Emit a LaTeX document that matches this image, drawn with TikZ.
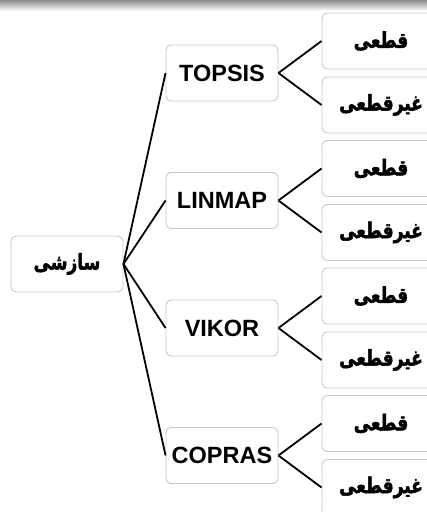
\documentclass[tikz,border=0pt]{standalone}
\usepackage{fontspec}
\setmainfont{Liberation Sans}
\newfontfamily\arabicfont[Script=Arabic,BoldFont={DejaVu Sans Bold},BoldFeatures={FakeBold=2.5}]{DejaVu Sans}
\TeXXeTstate=1
\usetikzlibrary{positioning}
\definecolor{BoxGray}{RGB}{200,200,200}
\newcommand{\fa}[1]{\scalebox{1.03}[1.3]{\arabicfont\bfseries\fontsize{16.5}{20}\selectfont\beginR #1\endR}}

\begin{document}
\begin{tikzpicture}[
      x=1pt,y=-1pt,
      font=\fontsize{23.5}{28}\selectfont\bfseries,
      box/.style={draw=BoxGray,line width=0.9pt,rounded corners=5pt,fill=white,inner sep=0pt,minimum width=112pt,minimum height=56pt,align=center},
      leaf/.style={box,minimum width=118pt},
      link/.style={line width=1.8pt,black}
    ]
      \useasboundingbox (0,0) rectangle (427,512);
      \shade[top color=black!45,bottom color=white] (0,0) rectangle (427,11);

      \node[box] (root) at (67,264) {\fa{سازشی}};

      \node[box] (topsis) at (222,73) {TOPSIS};
      \node[box] (linmap) at (222,200.5) {LINMAP};
      \node[box] (vikor) at (222,328) {VIKOR};
      \node[box] (copras) at (222,455.5) {COPRAS};

      \node[leaf] (topsisc) at (381,41) {\fa{قطعی}};
      \node[leaf] (topsisu) at (381,105) {\fa{غیرقطعی}};
      \node[leaf] (linmapc) at (381,168.5) {\fa{قطعی}};
      \node[leaf] (linmapu) at (381,232.5) {\fa{غیرقطعی}};
      \node[leaf] (vikorc) at (381,296) {\fa{قطعی}};
      \node[leaf] (vikoru) at (381,360) {\fa{غیرقطعی}};
      \node[leaf] (coprasc) at (381,423.5) {\fa{قطعی}};
      \node[leaf] (coprasu) at (381,487.5) {\fa{غیرقطعی}};

      \draw[link] (root.east) -- (topsis.west);
      \draw[link] (root.east) -- (linmap.west);
      \draw[link] (root.east) -- (vikor.west);
      \draw[link] (root.east) -- (copras.west);

      \draw[link] (topsis.east) -- (topsisc.west);
      \draw[link] (topsis.east) -- (topsisu.west);
      \draw[link] (linmap.east) -- (linmapc.west);
      \draw[link] (linmap.east) -- (linmapu.west);
      \draw[link] (vikor.east) -- (vikorc.west);
      \draw[link] (vikor.east) -- (vikoru.west);
      \draw[link] (copras.east) -- (coprasc.west);
      \draw[link] (copras.east) -- (coprasu.west);
    \end{tikzpicture}
\end{document}
